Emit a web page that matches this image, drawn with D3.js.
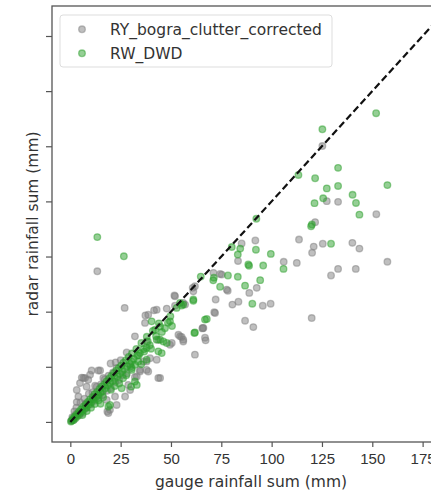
<!DOCTYPE html>
<html>
<head>
<meta charset="utf-8">
<script src="https://cdn.jsdelivr.net/npm/d3@7"></script>
<style>
  html, body { margin: 0; padding: 0; background: #fff; }
  svg { display: block; font-family: "DejaVu Sans", sans-serif; }
</style>
</head>
<body>
<svg id="chart" width="431" height="493"></svg>
<script>
// gauge vs. radar rainfall sums (mm): [gauge, radar]
const seriesNames = ["RY_bogra_clutter_corrected", "RW_DWD"];

const ryBogra = [
  [125.2,125.1],[127.4,100.1],[133.0,99.8],[152.0,94.2],[121.6,90.6],[113.6,82.7],[120.9,79.5],
  [120.1,76.7],[125.4,80.8],[140.1,81.2],[143.6,78.6],[157.5,72.6],[133.0,69.4],[141.8,69.4],
  [129.5,66.4],[112.5,72.1],[106.0,72.6],[91.9,82.3],[85.1,80.9],[83.3,73.0],[78.2,59.5],
  [72.2,55.5],[71.5,49.7],[80.5,53.2],[83.5,54.5],[88.9,58.5],[92.6,60.8],[95.6,52.7],
  [99.5,53.6],[86.8,45.9],[90.9,43.0],[119.9,47.1],[65.6,42.4],[61.1,59.2],[74.4,67.1],
  [66.9,38.2],[13.4,68.3],[27.0,51.7],[71.1,67.6],[75.2,66.8],[77.7,60.0],[61.9,61.5],
  [37.3,48.3],[41.6,50.6],[51.7,57.3],[47.9,51.4],[60.8,60.8],[71.9,49.4],[54.5,38.8],
  [56.1,36.5],[67.2,37.0],[61.9,30.5],[65.8,42.6],[32.1,38.8],[37.9,36.5],[44.6,19.9],
  [34.6,22.9],[37.9,23.6],[55.3,38.5],[50.4,35.8],[43.7,19.9],[33.0,20.6],[36.3,27.4],
  [27.2,11.5],[23.0,7.7],[19.7,5.5],[18.4,4.7],[42.9,28.2],[52.0,52.7],[56.1,54.0],
  [49.5,35.0],[43.7,37.2],[39.6,28.9],[32.1,20.3],[28.8,16.8],[18.1,10.0],[13.1,16.0],
  [6.5,19.9],[8.9,19.1],[10.6,23.3],[14.8,23.3],[4.0,11.5],[5.7,20.1],[13.9,23.3],
  [9.8,21.4],[8.1,16.0],[3.2,9.0],[2.0,4.8],[1.0,2.2],[0.5,0.6],[1.8,1.0],[3.0,6.5],
  [5.0,8.8],[7.0,10.5],[9.2,12.8],[11.0,13.5],[12.3,16.4],[15.2,17.0],[17.1,19.3],
  [19.0,21.0],[21.2,22.4],[23.0,24.5],[16.0,12.2],[18.2,14.1],[20.1,15.3],[22.3,18.1],
  [24.2,19.0],[26.0,21.3],[28.1,22.0],[30.0,25.3],[25.0,28.0],[28.0,31.5],[22.5,27.0],
  [20.0,26.5],[4.5,3.0],[6.2,4.1],[8.0,6.3],[10.1,8.0],[12.0,9.6],[14.2,11.2],
  [2.6,3.4],[7.5,8.3],[11.5,11.0],
  [38.7,48.6],[42.9,50.9],[52.0,57.0],[57.0,53.2],[37.1,44.9],[66.1,42.6],[56.1,37.3],
  [53.7,39.5],[37.9,27.4],[34.6,23.6],[38.7,22.9],[29.7,14.5],[18.9,4.0],[22.2,11.5],
  [7.3,19.9],[4.8,17.6],[3.2,14.5],[16.4,19.9]
];

const rwDwd = [
  [151.9,140.0],[125.2,132.7],[133.0,115.2],[121.6,110.5],[113.3,112.0],[127.4,105.9],
  [133.0,107.0],[157.5,107.4],[140.2,103.0],[125.6,101.4],[121.3,99.2],[141.9,99.3],
  [143.6,94.0],[119.6,88.7],[120.0,89.5],[129.5,80.8],[92.4,92.1],[92.2,78.1],[84.4,78.6],
  [80.2,79.3],[83.2,75.9],[99.6,76.2],[88.8,70.8],[88.4,71.4],[95.8,70.9],[105.9,69.4],
  [94.3,64.3],[83.2,65.8],[78.3,66.4],[71.3,65.4],[71.0,64.2],[74.4,61.3],[86.8,61.8],
  [90.4,53.6],[61.1,54.9],[55.3,52.8],[66.9,46.4],[61.6,40.3],[64.8,65.9],[13.4,83.8],
  [26.6,75.1],[52.8,51.7],[49.7,47.9],[54.5,54.0],[67.8,46.7],[44.6,37.3],[42.1,41.8],
  [46.2,36.5],[43.7,32.0],[37.9,28.2],[30.5,27.4],[30.5,23.6],[33.0,16.8],[18.9,7.0],
  [30.2,16.0],[32.1,25.9],
  [0.3,0.2],[0.8,0.5],[1.2,1.5],[1.6,0.9],[2.1,2.4],[2.7,1.8],[3.1,3.3],[3.6,2.7],
  [4.2,4.6],[4.8,3.9],[5.3,5.7],[5.9,4.8],[6.4,6.9],[7.0,5.9],[7.6,7.8],[8.1,6.7],
  [8.7,9.1],[9.3,8.0],[9.8,10.2],[10.4,8.9],[11.0,11.3],[11.6,10.1],[12.1,12.6],[12.7,11.2],
  [13.3,13.6],[13.9,12.1],[14.5,14.9],[15.0,13.2],[15.6,16.1],[16.2,14.0],[16.8,17.0],
  [17.4,15.3],[18.0,18.4],[18.6,16.5],[19.2,19.6],[19.8,17.7],[20.4,20.8],[21.0,18.5],
  [21.6,22.1],[22.2,19.9],[22.8,23.2],[23.4,20.6],[24.0,24.4],[24.6,21.8],[25.2,25.5],
  [25.8,23.0],[26.4,26.9],[27.0,24.1],[27.6,28.0],[28.3,25.2],[29.0,29.5],[29.7,26.3],
  [30.6,31.0],[31.5,28.6],[32.8,33.1],[34.0,30.2],[35.3,35.8],[36.7,31.9],[38.0,38.6],
  [39.5,34.8],[41.0,41.3],[42.6,38.9],[44.0,44.7],[45.5,40.8],[47.0,42.5],
  [6.0,3.1],[8.2,4.9],[10.3,6.4],[12.2,8.1],[14.1,9.8],[16.3,11.2],[20.2,14.6],
  [22.1,16.3],[24.3,17.4],[26.2,19.8],[27.8,21.2],[15.0,8.2],[35.2,26.1],[40.1,33.2],
  [36.4,33.0],[33.3,30.1],[38.5,36.5],[48.5,45.0],[50.5,43.5],
  [56.1,53.2],[61.1,55.5],[61.9,40.6],[49.5,45.6],[44.6,43.3],[40.4,45.6],[42.9,37.3],
  [47.9,35.8],[45.4,31.2],[37.9,33.5],[34.6,31.2],[33.8,27.4],[30.5,24.4],[32.1,18.3],
  [25.5,15.3],[19.7,7.7]
];

const xTicks = [0, 25, 50, 75, 100, 125, 150, 175];
const yTicks = [0, 25, 50, 75, 100, 125, 150, 175];
const axisDomain = [-9.1, 188.6];
const identityLine = [[0, 0], [200, 200]];

const svg = d3.select("#chart");
const plot = { left: 52, right: 450, top: 6, bottom: 442 };

const x = d3.scaleLinear().domain(axisDomain).range([plot.left, plot.right]);
const y = d3.scaleLinear().domain(axisDomain).range([plot.bottom, plot.top]);

svg.append("defs").append("clipPath").attr("id", "plot-clip")
  .append("rect")
  .attr("x", plot.left).attr("y", plot.top)
  .attr("width", plot.right - plot.left).attr("height", plot.bottom - plot.top);

const spineColor = "#555";
const textColor = "#333";

// scatter series
const colors = ["#808080", "#2ca02c"];
const marks = svg.append("g").attr("clip-path", "url(#plot-clip)");
[ryBogra, rwDwd].forEach((data, i) => {
  marks.append("g")
    .selectAll("circle")
    .data(data)
    .join("circle")
    .attr("cx", d => x(d[0]))
    .attr("cy", d => y(d[1]))
    .attr("r", 3.3)
    .attr("fill", colors[i])
    .attr("fill-opacity", 0.5)
    .attr("stroke", colors[i])
    .attr("stroke-opacity", 0.5)
    .attr("stroke-width", 1.3);
});

// 1:1 reference line
marks.append("path")
  .datum(identityLine)
  .attr("d", d3.line().x(d => x(d[0])).y(d => y(d[1])))
  .attr("fill", "none")
  .attr("stroke", "#111")
  .attr("stroke-width", 2.2)
  .attr("stroke-dasharray", "7,3.5");

// axes
const xAxis = svg.append("g")
  .attr("transform", `translate(0,${plot.bottom})`)
  .call(d3.axisBottom(x).tickValues(xTicks).tickSize(5).tickPadding(6).tickFormat(d3.format("d")));
const yAxis = svg.append("g")
  .attr("transform", `translate(${plot.left},0)`)
  .call(d3.axisLeft(y).tickValues(yTicks).tickSize(6).tickFormat(""));

[xAxis, yAxis].forEach(g => {
  g.select(".domain").remove();
  g.selectAll(".tick line").attr("stroke", spineColor).attr("stroke-width", 1.2);
});
xAxis.selectAll(".tick text")
  .attr("fill", textColor)
  .style("font-size", "15px");

// frame
svg.append("rect")
  .attr("x", plot.left).attr("y", plot.top)
  .attr("width", plot.right - plot.left).attr("height", plot.bottom - plot.top)
  .attr("fill", "none")
  .attr("stroke", spineColor)
  .attr("stroke-width", 1.3);

// axis titles
svg.append("text")
  .attr("x", (plot.left + plot.right) / 2)
  .attr("y", 487)
  .attr("text-anchor", "middle")
  .attr("fill", textColor)
  .style("font-size", "15.5px")
  .text("gauge rainfall sum (mm)");

svg.append("text")
  .attr("transform", `translate(38,${(plot.top + plot.bottom) / 2}) rotate(-90)`)
  .attr("text-anchor", "middle")
  .attr("fill", textColor)
  .style("font-size", "15.5px")
  .text("radar rainfall sum (mm)");

// legend
const legend = svg.append("g");
legend.append("rect")
  .attr("x", 60).attr("y", 15)
  .attr("width", 272).attr("height", 52)
  .attr("rx", 3)
  .attr("fill", "#fff")
  .attr("fill-opacity", 0.8)
  .attr("stroke", "#ddd")
  .attr("stroke-width", 1);

seriesNames.forEach((name, i) => {
  const cy = 29.3 + i * 24;
  legend.append("circle")
    .attr("cx", 82).attr("cy", cy).attr("r", 3.3)
    .attr("fill", colors[i]).attr("fill-opacity", 0.5)
    .attr("stroke", colors[i]).attr("stroke-opacity", 0.5)
    .attr("stroke-width", 1.3);
  legend.append("text")
    .attr("x", 110).attr("y", cy + 5.5)
    .attr("fill", textColor)
    .style("font-size", "15.5px")
    .text(name);
});
</script>
</body>
</html>
